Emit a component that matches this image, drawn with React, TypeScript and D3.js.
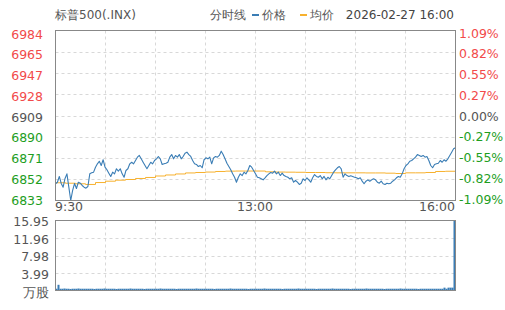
import React from 'react';
import * as d3 from 'd3';

const titleText = '标普500(.INX)';
const modeLabel = '分时线';
const seriesNames = ['价格', '均价'];
const dateText = '2026-02-27 16:00';
const priceTickLabels = ['6984', '6965', '6947', '6928', '6909', '6890', '6871', '6852', '6833'];
const pctTickLabels = ['1.09%', '0.82%', '0.55%', '0.27%', '0.00%', '-0.27%', '-0.55%', '-0.82%', '-1.09%'];
const timeLabels = ['9:30', '13:00', '16:00'];
const volTickLabels = ['15.95', '11.96', '7.98', '3.99'];
const volUnit = '万股';
const prevClose = 6909;
const maxPct = 1.09;
const volMax = 15.95;

const price = [
  6848.5, 6849.9, 6855.0, 6848.8, 6845.5, 6853.2, 6857.3, 6845.5, 6833.7, 6842.6,
  6848.8, 6844.3, 6849.9, 6849.0, 6847.0, 6845.5, 6844.6, 6846.1, 6857.3, 6858.2,
  6858.8, 6863.2, 6866.2, 6868.5, 6864.7, 6869.8, 6863.2, 6860.9, 6857.9, 6855.0,
  6858.8, 6857.3, 6861.8, 6859.7, 6861.8, 6857.3, 6854.3, 6860.3, 6861.8, 6866.2,
  6867.6, 6866.2, 6869.1, 6872.1, 6873.6, 6870.6, 6867.6, 6864.7, 6861.8, 6864.7,
  6867.6, 6866.2, 6869.1, 6870.6, 6872.7, 6870.6, 6865.6, 6866.2, 6866.7,
  6867.6, 6872.1, 6874.4, 6870.6, 6873.6, 6872.1, 6874.4, 6870.6, 6872.7, 6875.6,
  6876.5, 6874.4, 6872.7, 6869.1, 6866.2, 6865.6, 6863.8, 6864.7, 6862.7, 6869.8,
  6871.5, 6870.6, 6872.1, 6866.2, 6871.5, 6872.7, 6872.1, 6873.6, 6877.4, 6874.4,
  6870.6, 6866.7, 6863.8, 6860.9, 6857.3, 6854.3, 6849.9, 6854.3, 6857.3, 6855.8,
  6858.8, 6857.3, 6860.3, 6864.7, 6863.2, 6860.3, 6857.3, 6854.3, 6853.8, 6852.9, 6852.0,
  6853.8, 6855.8, 6857.3, 6858.5, 6857.9, 6859.7, 6857.3, 6858.8, 6855.8, 6857.9,
  6855.8, 6855.0, 6854.3, 6852.9, 6853.8, 6849.9, 6851.4, 6849.9, 6847.9, 6849.0,
  6852.9, 6851.4, 6853.8, 6852.0, 6849.9, 6853.8, 6856.7, 6855.0, 6854.3, 6855.8,
  6852.9, 6855.0, 6852.0, 6854.3, 6852.9, 6855.8, 6858.8, 6860.9, 6862.7, 6863.8,
  6861.8, 6854.3, 6857.3, 6855.8, 6855.0, 6855.6, 6855.0, 6854.3, 6853.8, 6852.9, 6853.8,
  6850.8, 6848.5, 6850.8, 6852.0, 6850.8, 6852.0, 6852.9, 6852.0, 6849.9, 6849.0,
  6850.8, 6848.5, 6847.9, 6849.0, 6848.5, 6849.0, 6850.8, 6852.0, 6853.8, 6855.0,
  6854.3, 6857.3, 6861.8, 6864.7, 6866.2, 6868.5, 6869.1, 6870.6, 6872.1, 6874.4,
  6873.6, 6872.7, 6873.6, 6872.1, 6872.7, 6869.1, 6864.7, 6862.7, 6865.6, 6866.2,
  6866.7, 6869.1, 6867.6, 6869.8, 6868.5, 6870.6, 6873.6, 6876.5, 6879.5, 6880.5,
];

const avgPrice = [
  6849.4, 6849.0, 6848.5, 6847.9, 6849.6, 6850.8, 6851.7, 6852.3, 6853.2, 6854.1,
  6855.4, 6856.3, 6857.2, 6858.1, 6858.5, 6858.9, 6859.4, 6859.7, 6859.8, 6859.8,
  6859.8, 6859.1, 6858.9, 6858.8, 6858.7, 6858.5, 6858.5, 6858.3, 6858.2, 6858.2,
  6858.2, 6858.1, 6858.1, 6857.9, 6857.6, 6858.2, 6858.2, 6858.5, 6859.4, 6859.6,
  6866.7,
];

const volume = [
  0.4, 1.3, 0.4, 0.4, 0.45, 0.4, 0.4, 0.35, 0.4, 0.4, 0.4, 0.45, 0.4, 0.4, 0.4, 0.4,
  0.4, 0.4, 0.4, 0.35, 0.4, 0.4, 0.4, 0.4, 0.45, 0.4, 0.4, 0.4, 0.4, 0.4, 0.35, 0.4,
  0.4, 0.4, 0.4, 0.4, 0.4, 0.45, 0.4, 0.4, 0.4, 0.4, 0.4, 0.4, 0.35, 0.4, 0.4, 0.4,
  0.4, 0.4, 0.4, 0.4, 0.45, 0.4, 0.4, 0.4, 0.4, 0.4, 0.4, 0.4, 0.35, 0.4, 0.4, 0.4,
  0.4, 0.4, 0.4, 0.4, 0.4, 0.4, 0.45, 0.4, 0.4, 0.4, 0.4, 0.4, 0.4, 0.4, 0.4, 0.35,
  0.4, 0.4, 0.4, 0.4, 0.4, 0.4, 0.4, 0.45, 0.4, 0.4, 0.4, 0.4, 0.4, 0.4, 0.4, 0.4,
  0.35, 0.4, 0.4, 0.4, 0.4, 0.4, 0.4, 0.4, 0.45, 0.4, 0.4, 0.4, 0.4, 0.4, 0.4, 0.4,
  0.4, 0.35, 0.4, 0.4, 0.4, 0.4, 0.4, 0.4, 0.4, 0.45, 0.4, 0.4, 0.4, 0.4, 0.4, 0.4,
  0.4, 0.4, 0.35, 0.4, 0.4, 0.4, 0.4, 0.4, 0.4, 0.4, 0.45, 0.4, 0.4, 0.4, 0.4, 0.4,
  0.4, 0.4, 0.4, 0.35, 0.4, 0.4, 0.4, 0.4, 0.4, 0.4, 0.4, 0.45, 0.4, 0.4, 0.4, 0.4,
  0.4, 0.4, 0.4, 0.4, 0.35, 0.4, 0.4, 0.4, 0.4, 0.4, 0.4, 0.4, 0.45, 0.4, 0.4, 0.4,
  0.4, 0.4, 0.4, 0.4, 0.4, 0.35, 0.4, 0.4, 0.4, 0.4, 0.4, 0.4, 0.4, 0.4, 0.4, 0.4,
  0.4, 0.4, 0.65, 0.4, 0.65, 0.65, 0.65, 15.95,
];

const W = 505;
const H = 310;
const L = 55.5;
const R = 455.5;
const T = 30.5;
const B = 200.5;
const VT = 220.5;
const VB = 290.5;
const FONT = 'DejaVu Sans, sans-serif';
const RED = '#f24a4a';
const GREEN = '#1e9e1e';
const GREY = '#555';
const BLUE = '#3a7db5';
const ORANGE = '#f7b12e';

function labelColor(i: number, n: number) {
  const mid = (n - 1) / 2;
  if (i < mid) return RED;
  if (i > mid) return GREEN;
  return GREY;
}

export default function App() {
  const y = d3
    .scaleLinear()
    .domain([prevClose * (1 - maxPct / 100), prevClose * (1 + maxPct / 100)])
    .range([B, T]);
  const x = d3.scaleLinear().domain([0, price.length - 1]).range([L, R]);
  const xa = d3.scaleLinear().domain([0, avgPrice.length - 1]).range([L, R]);
  const xv = d3.scaleLinear().domain([0, volume.length]).range([L, R]);
  const yv = d3.scaleLinear().domain([0, volMax]).range([VB, VT]);
  const gridY = d3.scaleLinear().domain([0, priceTickLabels.length - 1]).range([T, B]);
  const labelY = d3.scaleLinear().domain([0, priceTickLabels.length - 1]).range([34, 200]);
  const gridX = d3.scaleLinear().domain([0, 8]).range([L, R]);
  const volGridY = d3.scaleLinear().domain([0, volTickLabels.length]).range([VT, VB]);
  const timeX = d3.scaleLinear().domain([0, timeLabels.length - 1]).range([L - 0.5, R - 0.5]);

  const priceLine = d3
    .line<number>()
    .x((_, i) => x(i))
    .y((d) => y(d))(price) as string;
  const avgLine = d3
    .line<number>()
    .x((_, i) => xa(i))
    .y((d) => y(d))
    .curve(d3.curveStepAfter)(avgPrice) as string;

  const hLines = d3.range(1, priceTickLabels.length - 1);
  const vLines = d3.range(1, 8);

  return (
    <svg
      width={W}
      height={H}
      style={{ position: 'absolute', left: 0, top: 0, background: '#fff' }}
      fontFamily={FONT}
    >
      {/* header */}
      <text x={55} y={19} fontSize={12} fill={GREY}>
        {titleText}
      </text>
      <text x={246} y={19} fontSize={12} fill={GREY} textAnchor="end">
        {modeLabel}
      </text>
      <line x1={252} x2={259} y1={15} y2={15} stroke={BLUE} strokeWidth={2} />
      <text x={262} y={19} fontSize={12} fill={GREY}>
        {seriesNames[0]}
      </text>
      <line x1={300} x2={307} y1={15} y2={15} stroke={ORANGE} strokeWidth={2} />
      <text x={310} y={19} fontSize={12} fill={GREY}>
        {seriesNames[1]}
      </text>
      <text x={454} y={19} fontSize={12} fill="#444" textAnchor="end">
        {dateText}
      </text>

      {/* main grid */}
      {hLines.map((i) => (
        <line key={'h' + i} x1={L} x2={R} y1={Math.round(gridY(i)) + 0.5} y2={Math.round(gridY(i)) + 0.5}
          stroke="#d8d8d8" strokeDasharray="3,3" />
      ))}
      {vLines.map((j) => (
        <line key={'v' + j} x1={gridX(j)} x2={gridX(j)} y1={T} y2={B} stroke="#d8d8d8" strokeDasharray="3,3" />
      ))}
      {/* volume grid */}
      {d3.range(1, volTickLabels.length).map((i) => (
        <line key={'vh' + i} x1={L} x2={R} y1={Math.round(volGridY(i)) + 0.5} y2={Math.round(volGridY(i)) + 0.5}
          stroke="#d8d8d8" strokeDasharray="3,3" />
      ))}
      {vLines.map((j) => (
        <line key={'vv' + j} x1={gridX(j)} x2={gridX(j)} y1={VT} y2={VB} stroke="#d8d8d8" strokeDasharray="3,3" />
      ))}

      {/* lines */}
      <path d={avgLine} fill="none" stroke={ORANGE} strokeWidth={1} />
      <path d={priceLine} fill="none" stroke={BLUE} strokeWidth={1.1} strokeLinejoin="round" />

      {/* volume bars */}
      {volume.map((v, i) => (
        <rect key={'vb' + i} x={xv(i)} width={xv(i + 1) - xv(i)} y={yv(v)} height={VB - yv(v)} fill={BLUE} />
      ))}

      {/* frames */}
      <rect x={L} y={T} width={R - L} height={B - T} fill="none" stroke="#888" />
      <rect x={L} y={VT} width={R - L} height={VB - VT} fill="none" stroke="#888" />

      {/* left price labels */}
      {priceTickLabels.map((t, i) => (
        <text key={'pl' + i} x={43} y={labelY(i)} dy="0.36em" fontSize={12.5} textAnchor="end"
          fill={labelColor(i, priceTickLabels.length)}>
          {t}
        </text>
      ))}
      {/* right pct labels */}
      {pctTickLabels.map((t, i) => (
        <text key={'pr' + i} x={459} y={labelY(i) - 1} dy="0.36em" fontSize={12.5}
          fill={labelColor(i, pctTickLabels.length)}>
          {t}
        </text>
      ))}
      {/* time labels */}
      {timeLabels.map((t, i) => (
        <text key={'tl' + i} x={timeX(i)}
          y={206} dy="0.36em" fontSize={12.5} fill={GREY}
          textAnchor={i === 0 ? 'start' : i === timeLabels.length - 1 ? 'end' : 'middle'}>
          {t}
        </text>
      ))}
      {/* volume labels */}
      {volTickLabels.map((t, i) => (
        <text key={'vl' + i} x={49} y={volGridY(i) + 1} dy="0.36em" fontSize={12.5} textAnchor="end" fill={GREY}>
          {t}
        </text>
      ))}
      <text x={49} y={292} dy="0.36em" fontSize={12.5} textAnchor="end" fill={GREY}>
        {volUnit}
      </text>
    </svg>
  );
}
